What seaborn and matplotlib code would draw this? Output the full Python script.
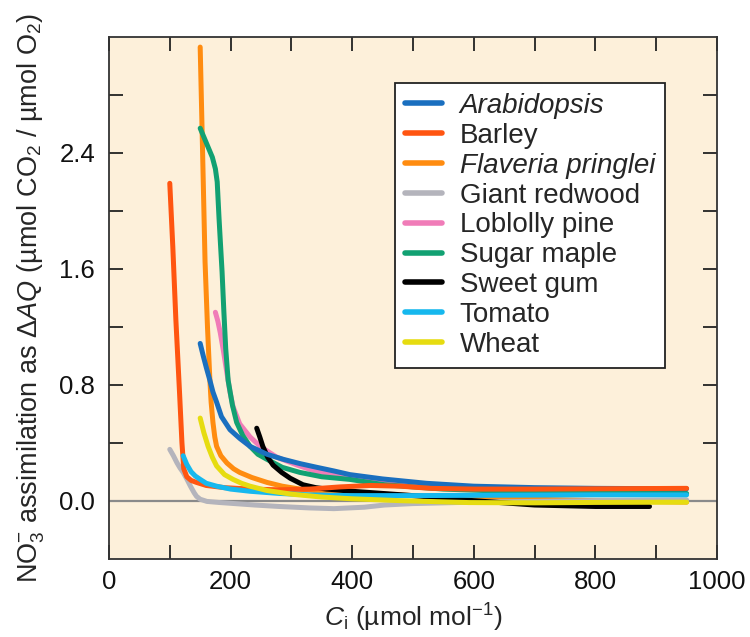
import numpy as np
import pandas as pd
import matplotlib
matplotlib.use("Agg")
import matplotlib.pyplot as plt
import seaborn as sns

species = ["Arabidopsis", "Barley", "Flaveria pringlei", "Giant redwood",
           "Loblolly pine", "Sugar maple", "Sweet gum", "Tomato", "Wheat"]
colors = ["#1A6FBF", "#FF5511", "#FF8C10", "#B4B4BC", "#F07CB8",
          "#12A172", "#000000", "#16B8EE", "#E6DC10"]

arab_x = [150, 155, 160, 166, 171, 177, 185, 199, 215, 232, 260, 287, 315, 342, 370, 396, 450, 522, 600, 700, 800, 950]
arab_y = [1.085, 1.0, 0.92, 0.83, 0.75, 0.68, 0.58, 0.49, 0.43, 0.375, 0.32, 0.285, 0.255, 0.23, 0.205, 0.18, 0.15, 0.12, 0.10, 0.09, 0.085, 0.082]

barley_x = [100, 105, 110, 116, 120, 123, 128, 135, 144, 160, 190, 232, 280, 330, 380, 430, 480, 530, 600, 700, 800, 950]
barley_y = [2.19, 1.75, 1.25, 0.75, 0.4, 0.22, 0.165, 0.14, 0.126, 0.105, 0.09, 0.08, 0.075, 0.08, 0.095, 0.105, 0.10, 0.085, 0.08, 0.08, 0.082, 0.085]

flav_x = [150, 154, 158, 162, 166, 168, 171, 174, 177, 184, 194, 205, 215, 235, 260, 285, 314, 350, 400, 500, 600, 700, 800, 950]
flav_y = [3.13, 2.4, 1.65, 1.2, 0.83, 0.68, 0.54, 0.44, 0.375, 0.31, 0.26, 0.22, 0.195, 0.16, 0.126, 0.10, 0.08, 0.065, 0.055, 0.035, 0.02, 0.01, 0.0, -0.01]

red_x = [100, 106, 112, 117, 122, 128, 134, 140, 144, 150, 161, 180, 200, 240, 280, 330, 370, 420, 453, 500, 600, 700, 800, 950]
red_y = [0.354, 0.31, 0.26, 0.225, 0.195, 0.15, 0.1, 0.055, 0.03, 0.01, -0.005, -0.012, -0.018, -0.03, -0.04, -0.05, -0.055, -0.045, -0.03, -0.02, -0.01, -0.005, 0.0, 0.005]

lob_x = [175, 179, 183, 188, 194, 199, 204, 215, 232, 250, 276, 310, 342, 396, 450, 550, 650, 750]
lob_y = [1.30, 1.24, 1.16, 1.04, 0.88, 0.75, 0.65, 0.53, 0.44, 0.37, 0.30, 0.245, 0.2, 0.17, 0.13, 0.095, 0.08, 0.07]

sug_x = [150, 152, 163, 170, 175, 178, 181, 183, 186, 189, 192, 196, 203, 210, 220, 232, 245, 260, 285, 314, 350, 396, 453, 550, 650, 800, 950]
sug_y = [2.57, 2.55, 2.44, 2.37, 2.29, 2.2, 1.95, 1.8, 1.58, 1.3, 1.05, 0.83, 0.66, 0.54, 0.45, 0.375, 0.32, 0.285, 0.23, 0.195, 0.165, 0.147, 0.11, 0.08, 0.065, 0.055, 0.05]

gum_x = [243, 248, 253, 261, 270, 284, 298, 319, 340, 358, 400, 450, 500, 600, 700, 800, 889]
gum_y = [0.50, 0.44, 0.375, 0.30, 0.245, 0.195, 0.155, 0.11, 0.09, 0.08, 0.065, 0.05, 0.035, 0.0, -0.03, -0.04, -0.04]

tom_x = [122, 128, 135, 142, 150, 160, 177, 200, 232, 280, 330, 396, 500, 650, 800, 950]
tom_y = [0.31, 0.25, 0.2, 0.17, 0.147, 0.12, 0.1, 0.08, 0.065, 0.05, 0.04, 0.035, 0.035, 0.038, 0.04, 0.04]

wheat_x = [150, 156, 163, 170, 177, 190, 204, 218, 232, 260, 300, 350, 400, 480, 592, 700, 800, 950]
wheat_y = [0.57, 0.47, 0.375, 0.3, 0.24, 0.18, 0.147, 0.12, 0.10, 0.07, 0.045, 0.025, 0.013, 0.0, -0.013, -0.015, -0.012, -0.01]

series = [(arab_x, arab_y), (barley_x, barley_y), (flav_x, flav_y), (red_x, red_y),
          (lob_x, lob_y), (sug_x, sug_y), (gum_x, gum_y), (tom_x, tom_y), (wheat_x, wheat_y)]
zorders = [3.3, 3.4, 3.0, 3.0, 3.0, 3.0, 3.0, 3.5, 3.6]

sns.set_style("ticks")
plt.rcParams['font.family'] = ['Liberation Sans', 'DejaVu Sans']
plt.rcParams['mathtext.fontset'] = 'custom'
plt.rcParams['mathtext.rm'] = 'Liberation Sans'
plt.rcParams['mathtext.it'] = 'Liberation Sans:italic'
plt.rcParams['mathtext.bf'] = 'Liberation Sans:bold'

frames = []
for name, (xs, ys) in zip(species, series):
    frames.append(pd.DataFrame({"Ci": xs, "AQ": ys, "species": name}))
df = pd.concat(frames, ignore_index=True)

fig = plt.figure(figsize=(7.5, 6.37), dpi=100)
ax = fig.add_axes([0.1453, 0.123, 0.8107, 0.819])
ax.set_facecolor("#FDF0DA")

ax.axhline(0, color="#8a8a8a", lw=1.6, zorder=1)

for name, col, z in zip(species, colors, zorders):
    sub = df[df.species == name]
    sns.lineplot(data=sub, x="Ci", y="AQ", color=col, lw=3.6, sort=False,
                 estimator=None, ax=ax, label=name, solid_capstyle="round",
                 solid_joinstyle="round", zorder=z)

ax.set_xlim(0, 1000)
ax.set_ylim(-0.4, 3.2)
ax.set_xticks([0, 200, 400, 600, 800, 1000])
ax.set_xticks(np.arange(100, 1000, 200), minor=True)
ax.set_yticks([0.0, 0.8, 1.6, 2.4])
ax.set_yticklabels(["0.0", "0.8", "1.6", "2.4"])
ax.set_yticks([0.4, 1.2, 2.0, 2.8], minor=True)
ax.tick_params(which="both", direction="in", length=10, width=1.3, top=True, right=True,
               color="#222222", labelsize=18.5, labelcolor="#111111")
ax.tick_params(axis="y", pad=10)
ax.tick_params(axis="x", pad=8)
for sp in ax.spines.values():
    sp.set_color("#333333")
    sp.set_linewidth(1.3)

ax.set_xlabel(r'$\mathit{C}_\mathrm{i}$ (µmol mol$^{-1}$)', fontsize=19, labelpad=6)
ax.set_ylabel(r'NO$_3^{-}$ assimilation as Δ$\mathit{AQ}$ (µmol CO$_2$ / µmol O$_2$)', fontsize=19.5, labelpad=9)

leg = ax.legend(loc="upper left", bbox_to_anchor=(0.47, 0.912), fontsize=20, frameon=True,
                fancybox=False, edgecolor="#222222", facecolor="white", framealpha=1,
                handlelength=1.33, handletextpad=0.65, labelspacing=0.14, borderpad=0.36,
                borderaxespad=0)
leg.get_frame().set_linewidth(1.3)
for t in leg.get_texts():
    if t.get_text() in ("Arabidopsis", "Flaveria pringlei"):
        t.set_fontstyle("italic")
for h in leg.get_lines():
    h.set_linewidth(4)

fig.savefig("out.png", dpi=100, facecolor="white")
